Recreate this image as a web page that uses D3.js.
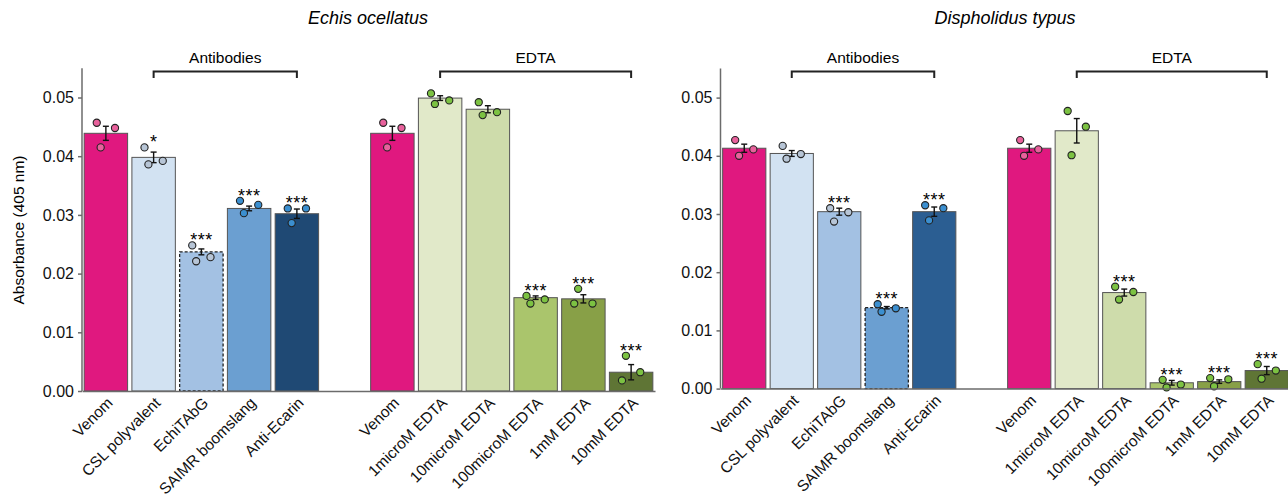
<!DOCTYPE html>
<html>
<head>
<meta charset="utf-8">
<script src="https://cdn.jsdelivr.net/npm/d3@7"></script>
<style>
  body { margin: 0; background: #fff; }
  svg { font-family: "Liberation Sans", Arial, Helvetica, sans-serif; }
  .axis path, .axis line { stroke: #6b6b6b; stroke-width: 1.5; }
  .axis text { fill: #111; }
</style>
</head>
<body>
<div id="chart"></div>
<script>
// categories
var antibodyLabels = ["Venom", "CSL polyvalent", "EchiTAbG", "SAIMR boomslang", "Anti-Ecarin"];
var edtaLabels = ["Venom", "1microM EDTA", "10microM EDTA", "100microM EDTA", "1mM EDTA", "10mM EDTA"];
var yTicks = [0, 0.01, 0.02, 0.03, 0.04, 0.05];

// Echis ocellatus (antibodies then EDTA)
var echisMean = [0.0439, 0.0398, 0.0237, 0.0311, 0.0302, 0.0439, 0.0499, 0.0480, 0.0159, 0.0157, 0.0032];
var echisSem = [0.0012, 0.0009, 0.0005, 0.0004, 0.0008, 0.0012, 0.0004, 0.0006, 0.0003, 0.0007, 0.0013];
var echisReps = [
    [0.0457, 0.0415, 0.0448], [0.0415, 0.0386, 0.0392], [0.0248, 0.0221, 0.0228],
    [0.0324, 0.0303, 0.0317], [0.0311, 0.0286, 0.0311], [0.0457, 0.0415, 0.0448],
    [0.0507, 0.0489, 0.0495], [0.0492, 0.0470, 0.0475], [0.0162, 0.0149, 0.0156],
    [0.0149, 0.0174, 0.0149], [0.0018, 0.0060, 0.0032]
];
var echisSig = ["", "*", "***", "***", "***", "", "", "", "***", "***", "***"];

// Dispholidus typus
var typusMean = [0.0413, 0.0404, 0.0304, 0.0139, 0.0304, 0.0413, 0.0443, 0.0165, 0.0010, 0.0012, 0.0031];
var typusSem = [0.0007, 0.0005, 0.0006, 0.0002, 0.0008, 0.0007, 0.0021, 0.0006, 0.0004, 0.0003, 0.0007];
var typusReps = [
    [0.0427, 0.0400, 0.0411], [0.0417, 0.0395, 0.0403], [0.0310, 0.0287, 0.0303],
    [0.0145, 0.0132, 0.0138], [0.0315, 0.0289, 0.0310], [0.0427, 0.0400, 0.0411],
    [0.0477, 0.0401, 0.0450], [0.0175, 0.0153, 0.0166], [0.0015, 0.0002, 0.0007],
    [0.0018, 0.0004, 0.0016], [0.0042, 0.0017, 0.0031]
];
var typusSig = ["", "", "***", "***", "***", "", "", "***", "***", "***", "***"];

// colours
var venomFill = "#e0187f", venomDot = "#e8619c";
var lightDot = "#b7c5d6", blueDot = "#3b8fd0", greenDot = "#7cc242";
var abFill = ["#d2e2f2", "#a3c1e3", "#6b9fd1"];
var edtaFill = ["#e1e9c9", "#cedcab", "#aac56c", "#88a047", "#5f7535"];

var width = 1288, height = 500;
var svg = d3.select("#chart").append("svg")
    .attr("width", width)
    .attr("height", height);

// slot keys: 5 antibody bars, a gap, 6 EDTA bars
var slots = d3.range(12);
var barSlots = [0, 1, 2, 3, 4, 6, 7, 8, 9, 10, 11];
var allLabels = antibodyLabels.concat([""], edtaLabels);

function drawPanel(p) {
    var x = d3.scaleBand()
        .domain(slots)
        .range([p.left, p.right])
        .paddingInner(0.09)
        .paddingOuter(0.045);

    var y = d3.scaleLinear()
        .domain([0, 0.055])
        .range([p.bottom, p.bottom - 0.055 * p.k]);

    var g = svg.append("g");

    var bars = barSlots.map(function(s, i) {
        return {slot: s, mean: p.mean[i], sem: p.sem[i], reps: p.reps[i], sig: p.sig[i],
                fill: p.fills[i], dot: p.dots[i], dashed: i == p.dashed};
    });

    // bars
    g.selectAll(".bar")
        .data(bars)
        .enter().append("rect")
        .attr("x", function(d) { return x(d.slot); })
        .attr("y", function(d) { return y(d.mean); })
        .attr("width", x.bandwidth())
        .attr("height", function(d) { return y(0) - y(d.mean); })
        .attr("fill", function(d) { return d.fill; })
        .attr("stroke", function(d) { return d.dashed ? "#222" : "#555"; })
        .attr("stroke-width", function(d) { return d.dashed ? 1.3 : 1; })
        .attr("stroke-dasharray", function(d) { return d.dashed ? "3,2" : null; });

    // error bars
    var eb = g.selectAll(".err")
        .data(bars)
        .enter().append("g")
        .attr("transform", function(d) { return "translate(" + (x(d.slot) + x.bandwidth() / 2) + ",0)"; });
    eb.append("line")
        .attr("y1", function(d) { return y(d.mean + d.sem); })
        .attr("y2", function(d) { return y(d.mean - d.sem); })
        .attr("stroke", "#111").attr("stroke-width", 1.4);
    eb.append("line")
        .attr("x1", -3).attr("x2", 3)
        .attr("y1", function(d) { return y(d.mean + d.sem); })
        .attr("y2", function(d) { return y(d.mean + d.sem); })
        .attr("stroke", "#111").attr("stroke-width", 1.4);
    eb.append("line")
        .attr("x1", -3).attr("x2", 3)
        .attr("y1", function(d) { return y(d.mean - d.sem); })
        .attr("y2", function(d) { return y(d.mean - d.sem); })
        .attr("stroke", "#111").attr("stroke-width", 1.4);

    // replicate points (fixed jitter pattern)
    var jitter = [-0.21, -0.12, 0.21];
    eb.selectAll("circle")
        .data(function(d) { return d.reps.map(function(v, j) { return {v: v, j: j, dot: d.dot}; }); })
        .enter().append("circle")
        .attr("cx", function(d) { return jitter[d.j] * x.bandwidth(); })
        .attr("cy", function(d) { return y(d.v); })
        .attr("r", 3.6)
        .attr("fill", function(d) { return d.dot; })
        .attr("stroke", "#222")
        .attr("stroke-width", 1.1);

    // significance stars
    eb.append("text")
        .attr("y", function(d) { return y(d3.max(d.reps)) + 1; })
        .attr("text-anchor", "middle")
        .style("font-size", "18px")
        .style("letter-spacing", "0.5px")
        .text(function(d) { return d.sig; });

    // y axis
    g.append("g")
        .attr("class", "axis")
        .attr("transform", "translate(" + p.left + ",0)")
        .call(d3.axisLeft(y).tickValues(yTicks).tickFormat(d3.format(".2f")).tickSize(4).tickSizeOuter(0))
        .call(function(a) { a.selectAll("text").style("font-size", "16px").attr("x", -8); })
        .select(".domain").attr("d", "M0," + y(0.055) + "V" + y(0));

    // x axis
    g.append("g")
        .attr("class", "axis")
        .attr("transform", "translate(0," + y(0) + ")")
        .call(d3.axisBottom(x).tickValues(barSlots).tickSize(0).tickSizeOuter(0)
            .tickFormat(function(s) { return allLabels[s]; }))
        .selectAll("text")
        .style("font-size", "15.5px")
        .attr("text-anchor", "end")
        .attr("x", 0).attr("y", 0).attr("dy", "0.35em")
        .attr("transform", "translate(4,9) rotate(-45)");

    // group brackets
    var groups = [
        {name: "Antibodies", a: 1, b: 4},
        {name: "EDTA", a: 7, b: 11}
    ];
    groups.forEach(function(gr) {
        var x1 = x(gr.a) + x.bandwidth() / 2, x2 = x(gr.b) + x.bandwidth() / 2;
        g.append("path")
            .attr("d", "M" + x1 + ",78V71.5H" + x2 + "V78")
            .attr("fill", "none")
            .attr("stroke", "#222")
            .attr("stroke-width", 2);
        g.append("text")
            .attr("x", (x1 + x2) / 2)
            .attr("y", 63)
            .attr("text-anchor", "middle")
            .style("font-size", "15.5px")
            .text(gr.name);
    });

    // title
    g.append("text")
        .attr("x", p.titleX)
        .attr("y", 24)
        .attr("text-anchor", "middle")
        .style("font-size", "18px")
        .style("font-style", "italic")
        .text(p.title);
}

drawPanel({
    title: "Echis ocellatus", titleX: 368,
    left: 82, right: 655, bottom: 391, k: 5870,
    mean: echisMean, sem: echisSem, reps: echisReps, sig: echisSig, dashed: 2,
    fills: [venomFill, abFill[0], abFill[1], abFill[2], "#1f4974", venomFill].concat(edtaFill),
    dots: [venomDot, lightDot, lightDot, blueDot, blueDot, venomDot, greenDot, greenDot, greenDot, greenDot, greenDot]
});

drawPanel({
    title: "Dispholidus typus", titleX: 1005,
    left: 720.5, right: 1290.5, bottom: 388.6, k: 5820,
    mean: typusMean, sem: typusSem, reps: typusReps, sig: typusSig, dashed: 3,
    fills: [venomFill, abFill[0], abFill[1], abFill[2], "#2b5e92", venomFill].concat(edtaFill),
    dots: [venomDot, lightDot, lightDot, blueDot, blueDot, venomDot, greenDot, greenDot, greenDot, greenDot, greenDot]
});

// y axis title
svg.append("text")
    .attr("transform", "translate(24,230) rotate(-90)")
    .attr("text-anchor", "middle")
    .style("font-size", "15.5px")
    .text("Absorbance (405 nm)");
</script>
</body>
</html>
